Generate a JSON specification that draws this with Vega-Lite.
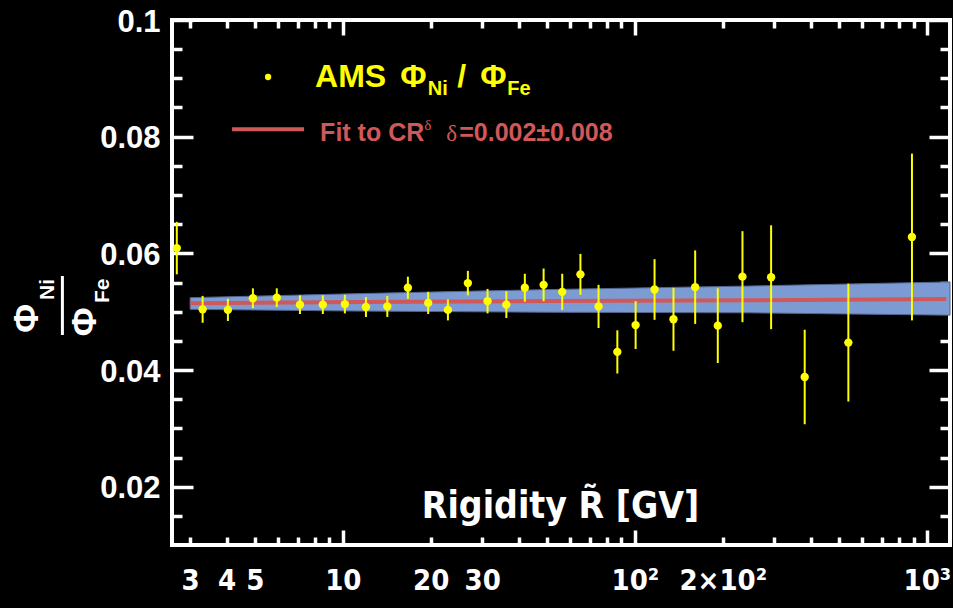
{
  "$schema": "https://vega.github.io/schema/vega-lite/v6.json",
  "width": 778,
  "height": 525,
  "autosize": {"type": "none"},
  "padding": {"left": 172, "top": 20, "right": 3, "bottom": 63},
  "background": "black",
  "config": {
    "view": {"stroke": "white", "strokeWidth": 4},
    "axis": {"grid": false, "domain": false, "tickColor": "white", "tickWidth": 3.5, "labelColor": "white", "titleColor": "white", "labelOverlap": false, "labelFlush": false, "labelBound": false}
  },
  "datasets": {
    "points": [
      {"R": 2.70, "ratio": 0.0609, "lo": 0.0564, "hi": 0.0654},
      {"R": 3.31, "ratio": 0.0504, "lo": 0.0481, "hi": 0.0527},
      {"R": 4.04, "ratio": 0.0503, "lo": 0.0484, "hi": 0.0522},
      {"R": 4.92, "ratio": 0.0523, "lo": 0.0506, "hi": 0.0540},
      {"R": 5.94, "ratio": 0.0524, "lo": 0.0508, "hi": 0.0540},
      {"R": 7.13, "ratio": 0.0512, "lo": 0.0496, "hi": 0.0528},
      {"R": 8.54, "ratio": 0.0512, "lo": 0.0496, "hi": 0.0528},
      {"R": 10.16, "ratio": 0.0513, "lo": 0.0497, "hi": 0.0529},
      {"R": 12.0, "ratio": 0.0508, "lo": 0.0491, "hi": 0.0525},
      {"R": 14.2, "ratio": 0.0509, "lo": 0.0491, "hi": 0.0527},
      {"R": 16.7, "ratio": 0.0541, "lo": 0.0522, "hi": 0.0560},
      {"R": 19.6, "ratio": 0.0515, "lo": 0.0496, "hi": 0.0534},
      {"R": 22.9, "ratio": 0.0503, "lo": 0.0485, "hi": 0.0521},
      {"R": 26.8, "ratio": 0.0549, "lo": 0.0528, "hi": 0.0570},
      {"R": 31.3, "ratio": 0.0518, "lo": 0.0497, "hi": 0.0539},
      {"R": 36.3, "ratio": 0.0512, "lo": 0.0489, "hi": 0.0535},
      {"R": 42.0, "ratio": 0.0541, "lo": 0.0517, "hi": 0.0565},
      {"R": 48.7, "ratio": 0.0546, "lo": 0.0518, "hi": 0.0574},
      {"R": 56.4, "ratio": 0.0534, "lo": 0.0503, "hi": 0.0565},
      {"R": 65.1, "ratio": 0.0564, "lo": 0.0529, "hi": 0.0599},
      {"R": 75.1, "ratio": 0.0509, "lo": 0.0472, "hi": 0.0546},
      {"R": 87.1, "ratio": 0.0431, "lo": 0.0394, "hi": 0.0468},
      {"R": 100.6, "ratio": 0.0477, "lo": 0.0436, "hi": 0.0518},
      {"R": 116.8, "ratio": 0.0538, "lo": 0.0486, "hi": 0.0590},
      {"R": 135.6, "ratio": 0.0487, "lo": 0.0433, "hi": 0.0541},
      {"R": 160.9, "ratio": 0.0542, "lo": 0.0479, "hi": 0.0605},
      {"R": 192.3, "ratio": 0.0476, "lo": 0.0412, "hi": 0.0540},
      {"R": 233.6, "ratio": 0.0560, "lo": 0.0482, "hi": 0.0638},
      {"R": 292.8, "ratio": 0.0559, "lo": 0.0470, "hi": 0.0648},
      {"R": 381.6, "ratio": 0.0388, "lo": 0.0307, "hi": 0.0469},
      {"R": 538.4, "ratio": 0.0447, "lo": 0.0346, "hi": 0.0548},
      {"R": 889, "ratio": 0.0628, "lo": 0.0485, "hi": 0.0771}
    ],
    "band": [
      {"R": 3.0, "lo": 0.0504, "hi": 0.0524},
      {"R": 11.5, "lo": 0.0501, "hi": 0.0531},
      {"R": 51.5, "lo": 0.0499, "hi": 0.0538},
      {"R": 248.8, "lo": 0.0498, "hi": 0.0544},
      {"R": 1200, "lo": 0.0494, "hi": 0.0551}
    ],
    "fit": [
      {"R": 3.0, "ratio": 0.05145},
      {"R": 11.5, "ratio": 0.05167},
      {"R": 51.5, "ratio": 0.05184},
      {"R": 248.8, "ratio": 0.05196},
      {"R": 1165, "ratio": 0.05218}
    ]
  },
  "resolve": {"axis": {"x": "independent", "y": "independent"}},
  "layer": [
    {
      "data": {"name": "band"},
      "mark": {"type": "area", "color": "#7b9bd2", "stroke": "#52648f", "strokeWidth": 1},
      "encoding": {
        "x": {"field": "R", "type": "quantitative", "scale": {"type": "log", "domain": [2.6, 1200], "nice": false},
              "axis": {"orient": "bottom", "values": [10, 100, 1000], "tickSize": -15, "labels": false, "title": null}},
        "y": {"field": "lo", "type": "quantitative", "scale": {"domain": [0.01, 0.1], "nice": false, "zero": false},
              "axis": {"orient": "left", "values": [0.02, 0.04, 0.06, 0.08, 0.1], "tickSize": -21, "labels": false, "title": null}},
        "y2": {"field": "hi"}
      }
    },
    {
      "data": {"name": "fit"},
      "mark": {"type": "line", "color": "#d05858", "strokeWidth": 4},
      "encoding": {
        "x": {"field": "R", "type": "quantitative", "scale": {"type": "log", "domain": [2.6, 1200], "nice": false},
              "axis": {"orient": "bottom", "values": [3, 4, 5, 6, 7, 8, 9, 20, 30, 40, 50, 60, 70, 80, 90, 200, 300, 400, 500, 600, 700, 800, 900], "tickSize": -8, "labels": false, "title": null}},
        "y": {"field": "ratio", "type": "quantitative", "scale": {"domain": [0.01, 0.1], "nice": false, "zero": false},
              "axis": {"orient": "left", "values": [0.015, 0.025, 0.03, 0.035, 0.045, 0.05, 0.055, 0.065, 0.07, 0.075, 0.085, 0.09, 0.095], "tickSize": -10, "labels": false, "title": null}}
      }
    },
    {
      "data": {"name": "points"},
      "mark": {"type": "rule", "color": "#ffff00", "strokeWidth": 2},
      "encoding": {
        "x": {"field": "R", "type": "quantitative", "scale": {"type": "log", "domain": [2.6, 1200], "nice": false},
              "axis": {"orient": "top", "values": [10, 100, 1000], "tickSize": -15, "labels": false, "title": null}},
        "y": {"field": "lo", "type": "quantitative", "scale": {"domain": [0.01, 0.1], "nice": false, "zero": false},
              "axis": {"orient": "right", "values": [0.02, 0.04, 0.06, 0.08, 0.1], "tickSize": -21, "labels": false, "title": null}},
        "y2": {"field": "hi"}
      }
    },
    {
      "data": {"name": "points"},
      "mark": {"type": "circle", "color": "#ffff00", "size": 70, "opacity": 1},
      "encoding": {
        "x": {"field": "R", "type": "quantitative", "scale": {"type": "log", "domain": [2.6, 1200], "nice": false},
              "axis": {"orient": "top", "values": [3, 4, 5, 6, 7, 8, 9, 20, 30, 40, 50, 60, 70, 80, 90, 200, 300, 400, 500, 600, 700, 800, 900], "tickSize": -8, "labels": false, "title": null}},
        "y": {"field": "ratio", "type": "quantitative", "scale": {"domain": [0.01, 0.1], "nice": false, "zero": false},
              "axis": {"orient": "right", "values": [0.015, 0.025, 0.03, 0.035, 0.045, 0.05, 0.055, 0.065, 0.07, 0.075, 0.085, 0.09, 0.095], "tickSize": -10, "labels": false, "title": null}}
      }
    },
    {
      "data": {"values": [{}]},
      "mark": {"type": "circle", "color": "#ffff00", "size": 40, "opacity": 1},
      "encoding": {
        "x": {"datum": 5.546, "type": "quantitative", "scale": {"type": "log", "domain": [2.6, 1200], "nice": false},
              "axis": {"orient": "bottom", "values": [3, 4, 5, 10, 20, 30, 100, 200, 1000], "ticks": false,
                       "labelExpr": "datum.value >= 999 ? '10³' : datum.value >= 199 ? '2×10²' : datum.value >= 99 ? '10²' : format(datum.value, 'd')",
                       "labelFont": "Liberation Sans Narrow, DejaVu Sans Condensed, sans-serif", "labelFontSize": 29, "labelFontWeight": "bold",
                       "labelBaseline": "alphabetic", "labelPadding": 44,
                       "title": "Rigidity  R\u0303 [GV]", "titleFont": "Liberation Sans Narrow, DejaVu Sans Condensed, sans-serif", "titleFontSize": 37, "titleFontWeight": "bold",
                       "titleBaseline": "alphabetic", "titleX": 388, "titleY": -28, "titleAlign": "center"}},
        "y": {"datum": 0.09023, "type": "quantitative", "scale": {"domain": [0.01, 0.1], "nice": false, "zero": false},
              "axis": {"orient": "left", "values": [0.02, 0.04, 0.06, 0.08, 0.1], "ticks": false,
                       "labelExpr": "datum.value >= 0.099 ? '0.1' : format(datum.value, '.2f')",
                       "labelFont": "Liberation Sans, Arial, sans-serif", "labelFontSize": 31, "labelFontWeight": "bold",
                       "labelBaseline": "alphabetic", "labelOffset": 11, "labelPadding": 12, "title": null}}
      }
    },
    {
      "data": {"values": [{}]},
      "mark": {"type": "rule", "color": "#d05858", "strokeWidth": 4},
      "encoding": {
        "x": {"datum": 4.175, "type": "quantitative", "scale": {"type": "log", "domain": [2.6, 1200], "nice": false}, "axis": null},
        "x2": {"datum": 7.366},
        "y": {"datum": 0.08126, "type": "quantitative", "scale": {"domain": [0.01, 0.1], "nice": false, "zero": false}, "axis": null}
      }
    },
    {
      "data": {"values": [
        {"t": "AMS", "R": 8.035, "v": 0.08846, "sz": 32, "c": "y"},
        {"t": "Φ", "R": 15.72, "v": 0.08846, "sz": 32, "c": "y"},
        {"t": "Ni", "R": 19.55, "v": 0.08714, "sz": 20, "c": "y"},
        {"t": "/", "R": 24.64, "v": 0.08846, "sz": 32, "c": "y"},
        {"t": "Φ", "R": 29.54, "v": 0.08846, "sz": 32, "c": "y"},
        {"t": "Fe", "R": 36.56, "v": 0.08714, "sz": 20, "c": "y"},
        {"t": "Fit to CR", "R": 8.36, "v": 0.07931, "sz": 25, "c": "r"},
        {"t": "=0.002±0.008", "R": 25.03, "v": 0.07931, "sz": 25, "c": "r"}
      ]},
      "mark": {"type": "text", "align": "left", "baseline": "alphabetic", "fontWeight": "bold", "font": "Liberation Sans, Arial, sans-serif"},
      "encoding": {
        "x": {"field": "R", "type": "quantitative", "scale": {"type": "log", "domain": [2.6, 1200], "nice": false}, "axis": null},
        "y": {"field": "v", "type": "quantitative", "scale": {"domain": [0.01, 0.1], "nice": false, "zero": false}, "axis": null},
        "text": {"field": "t"},
        "size": {"field": "sz", "type": "quantitative", "scale": null, "legend": null},
        "color": {"field": "c", "type": "nominal", "scale": {"domain": ["y", "r"], "range": ["#ffff00", "#d05858"]}, "legend": null}
      }
    },
    {
      "data": {"values": [
        {"t": "δ", "R": 18.99, "v": 0.08114, "sz": 15},
        {"t": "δ", "R": 22.6, "v": 0.07931, "sz": 23}
      ]},
      "mark": {"type": "text", "align": "left", "baseline": "alphabetic", "font": "Liberation Serif, Times New Roman, serif", "color": "#d05858"},
      "encoding": {
        "x": {"field": "R", "type": "quantitative", "scale": {"type": "log", "domain": [2.6, 1200], "nice": false}, "axis": null},
        "y": {"field": "v", "type": "quantitative", "scale": {"domain": [0.01, 0.1], "nice": false, "zero": false}, "axis": null},
        "text": {"field": "t"},
        "size": {"field": "sz", "type": "quantitative", "scale": null, "legend": null}
      }
    },
    {
      "data": {"values": [
        {"t": "Φ", "R": 0.905, "v": 0.04640, "sz": 35},
        {"t": "Ni", "R": 1.025, "v": 0.0520, "sz": 21},
        {"t": "Φ", "R": 1.427, "v": 0.0458, "sz": 35},
        {"t": "Fe", "R": 1.585, "v": 0.05149, "sz": 21}
      ]},
      "mark": {"type": "text", "align": "left", "baseline": "alphabetic", "angle": 270, "fontWeight": "bold", "font": "Liberation Sans, Arial, sans-serif", "color": "white"},
      "encoding": {
        "x": {"field": "R", "type": "quantitative", "scale": {"type": "log", "domain": [2.6, 1200], "nice": false}, "axis": null},
        "y": {"field": "v", "type": "quantitative", "scale": {"domain": [0.01, 0.1], "nice": false, "zero": false}, "axis": null},
        "text": {"field": "t"},
        "size": {"field": "sz", "type": "quantitative", "scale": null, "legend": null}
      }
    },
    {
      "data": {"values": [{}]},
      "mark": {"type": "rule", "color": "white", "strokeWidth": 3},
      "encoding": {
        "x": {"datum": 1.0956, "type": "quantitative", "scale": {"type": "log", "domain": [2.6, 1200], "nice": false}, "axis": null},
        "y": {"datum": 0.05611, "type": "quantitative", "scale": {"domain": [0.01, 0.1], "nice": false, "zero": false}, "axis": null},
        "y2": {"datum": 0.0460}
      }
    }
  ]
}
